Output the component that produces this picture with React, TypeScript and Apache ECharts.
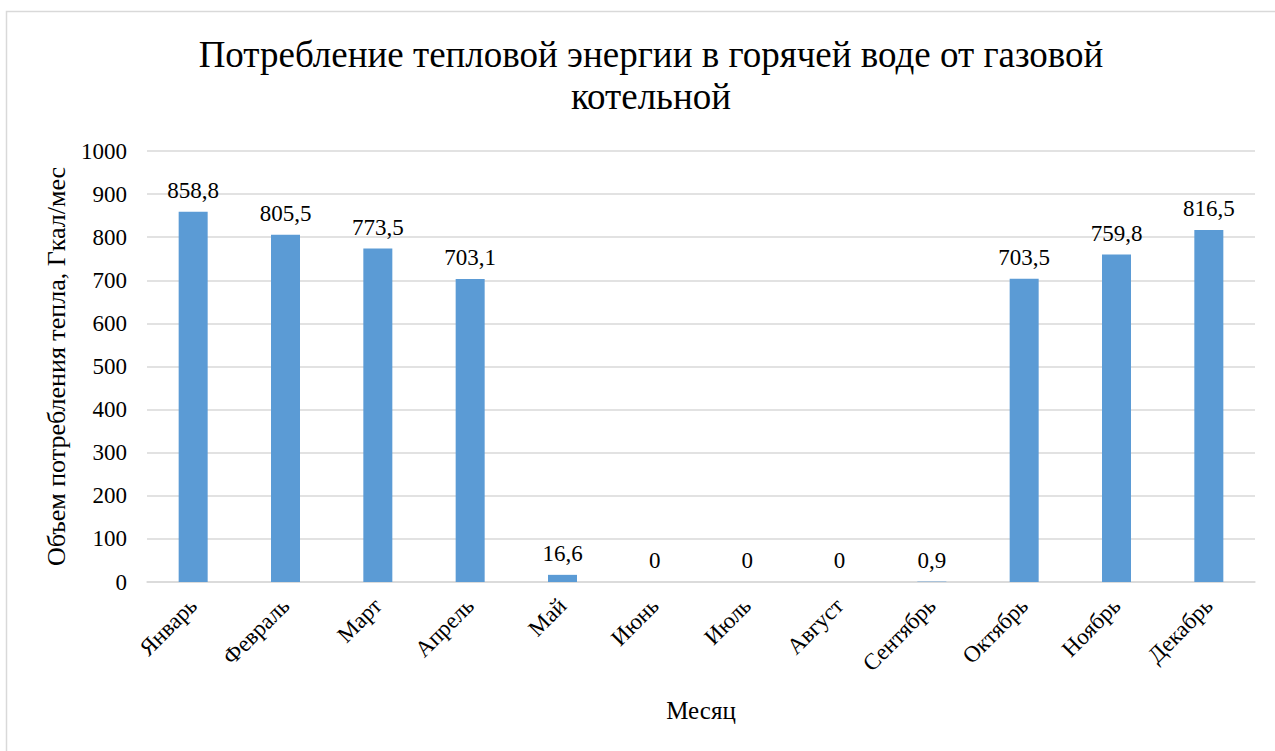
import React, { useEffect, useRef } from "react";
import * as echarts from "echarts";

const months = [
  "Январь", "Февраль", "Март", "Апрель", "Май", "Июнь",
  "Июль", "Август", "Сентябрь", "Октябрь", "Ноябрь", "Декабрь",
];
const heatConsumption = [858.8, 805.5, 773.5, 703.1, 16.6, 0, 0, 0, 0.9, 703.5, 759.8, 816.5];

const titleText = "Потребление тепловой энергии в горячей воде от газовой\nкотельной";
const yAxisTitle = "Объем потребления тепла, Гкал/мес";
const xAxisTitle = "Месяц";

const FONT = "Liberation Serif, Times New Roman, serif";

export default function App() {
  const ref = useRef<HTMLDivElement>(null);

  useEffect(() => {
    document.body.style.margin = "0";
    const chart = echarts.init(ref.current!, undefined, { renderer: "svg" });
    chart.setOption({
      animation: false,
      backgroundColor: "#ffffff",
      textStyle: { fontFamily: FONT, color: "#000" },
      title: {
        text: titleText,
        left: 646,
        top: 28,
        textAlign: "center",
        textStyle: {
          fontFamily: FONT,
          fontSize: 37,
          fontWeight: "normal",
          color: "#000",
          lineHeight: 42,
        },
      },
      graphic: [
        {
          type: "rect",
          shape: { x: 6.5, y: 11.5, width: 1300, height: 800 },
          style: { fill: "none", stroke: "#d9d9d9", lineWidth: 1.5 },
          silent: true,
        },
      ],
      grid: { left: 147, right: 20, top: 151, bottom: 169 },
      xAxis: {
        type: "category",
        data: months,
        name: xAxisTitle,
        nameLocation: "middle",
        nameGap: 116,
        nameTextStyle: { fontFamily: FONT, fontSize: 25, color: "#000" },
        axisLine: { lineStyle: { color: "#d9d9d9", width: 1.5 } },
        axisTick: { show: false },
        axisLabel: {
          rotate: 45,
          interval: 0,
          margin: 20,
          fontFamily: FONT,
          fontSize: 23,
          color: "#000",
        },
      },
      yAxis: {
        type: "value",
        min: 0,
        max: 1000,
        interval: 100,
        name: yAxisTitle,
        nameLocation: "middle",
        nameGap: 78,
        nameTextStyle: { fontFamily: FONT, fontSize: 26, color: "#000" },
        axisLine: { show: false },
        axisTick: { show: false },
        splitLine: { lineStyle: { color: "#d9d9d9", width: 1.5 } },
        axisLabel: {
          fontFamily: FONT,
          fontSize: 23,
          color: "#000",
          margin: 20,
          formatter: (v: number) => String(v),
        },
      },
      series: [
        {
          type: "bar",
          data: heatConsumption,
          barWidth: 29,
          itemStyle: { color: "#5b9bd5" },
          label: {
            show: true,
            position: "top",
            distance: 10,
            fontFamily: FONT,
            fontSize: 23,
            color: "#000",
            formatter: (p: any) => String(p.value).replace(".", ","),
          },
        },
      ],
    });
    return () => chart.dispose();
  }, []);

  return (
    <div
      ref={ref}
      style={{ position: "absolute", left: 0, top: 0, width: 1275, height: 751 }}
    />
  );
}
